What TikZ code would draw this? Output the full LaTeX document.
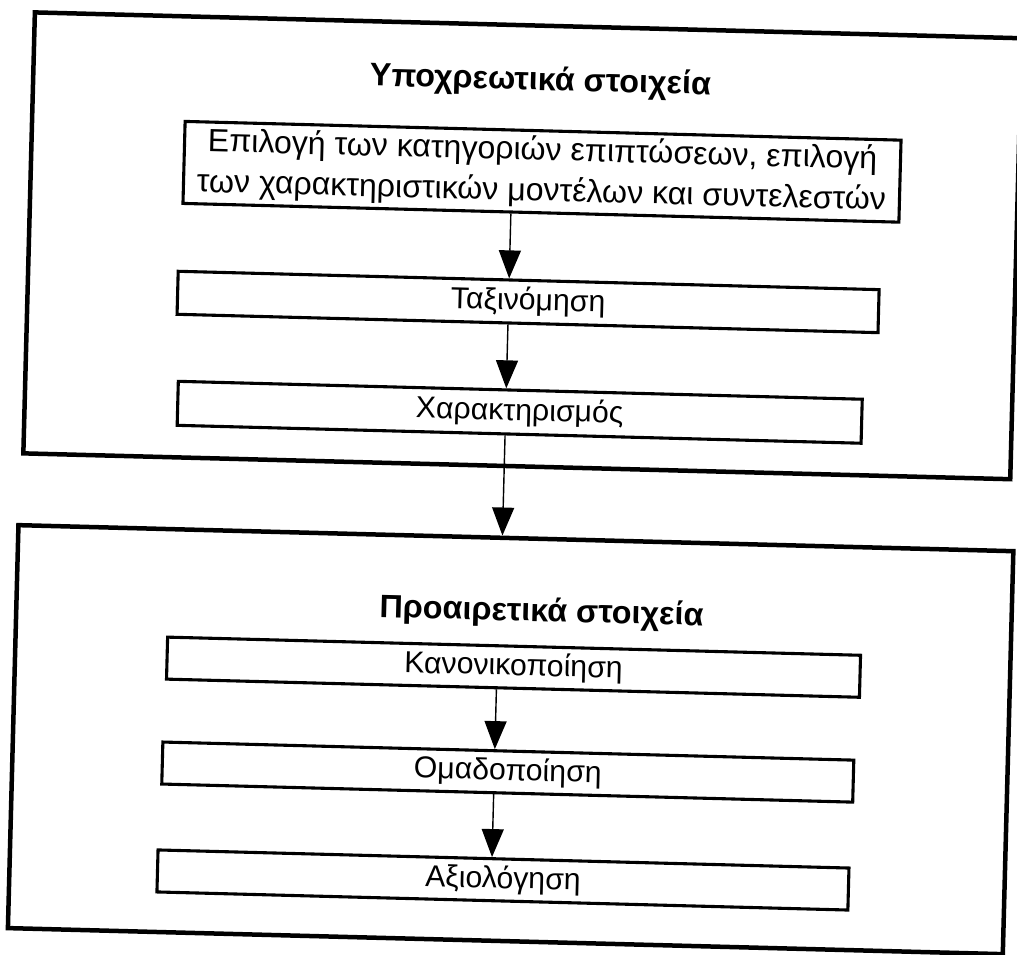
\documentclass[tikz,border=0pt]{standalone}
\usepackage{fontspec}
\setmainfont{Liberation Sans}
\usetikzlibrary{arrows.meta}
\begin{document}
\begin{tikzpicture}[x=0.025cm,y=-0.025cm,
  frame/.style={draw, line width=3.2pt, inner sep=0pt},
  stepbox/.style={draw, line width=2.2pt, inner sep=0pt,
    font=\fontsize{21.5}{26}\selectfont, align=center},
  heading/.style={font=\bfseries\fontsize{23}{26}\selectfont},
  flow/.style={line width=1pt, -{Triangle[width=0.55cm,length=0.7cm]}}]
\useasboundingbox (0,0) rectangle (1017,954);
\begin{scope}[rotate around={-1.5:(508.5,477)}, transform shape]
  % the two group frames
  \node[frame, minimum width=24.675cm, minimum height=11.025cm] (upper) at (516.5,245.5) {};
  \node[frame, minimum width=24.875cm, minimum height=10.075cm] (lower) at (517.5,739.5) {};
  % headings
  \node[heading] (t1) at (530,81) {Υποχρεωτικά στοιχεία};
  \node[heading] (t2) at (545,612) {Προαιρετικά στοιχεία};
  % steps of the mandatory part
  \node[stepbox, minimum width=17.9cm, minimum height=2.05cm,
        font=\fontsize{22.8}{29}\selectfont] (sel) at (534,171)
    {Επιλογή των κατηγοριών επιπτώσεων, επιλογή\\των χαρακτηριστικών μοντέλων και συντελεστών};
  \node[stepbox, minimum width=17.525cm, minimum height=1.075cm] (cls) at (523.5,301.5) {Ταξινόμηση};
  \node[stepbox, minimum width=17.1cm, minimum height=1.1cm] (chr) at (518,412) {Χαρακτηρισμός};
  % steps of the optional part
  \node[stepbox, minimum width=17.325cm, minimum height=1.05cm] (nrm) at (518.5,667) {Κανονικοποίηση};
  \node[stepbox, minimum width=17.275cm, minimum height=1.05cm] (grp) at (515.5,772) {Ομαδοποίηση};
  \node[stepbox, minimum width=17.275cm, minimum height=1.05cm] (wgt) at (513.5,880) {Αξιολόγηση};
  % arrow columns
  \coordinate (c1) at (504,0);
  \coordinate (c2) at (502,0);
  \draw[flow] (sel.south -| c1) -- (cls.north -| c1);
  \draw[flow] (cls.south -| c1) -- (chr.north -| c1);
  \draw[flow] (chr.south -| c1) -- (lower.north -| c1);
  \draw[flow] (nrm.south -| c2) -- (grp.north -| c2);
  \draw[flow] (grp.south -| c2) -- (wgt.north -| c2);
\end{scope}
\end{tikzpicture}
\end{document}
